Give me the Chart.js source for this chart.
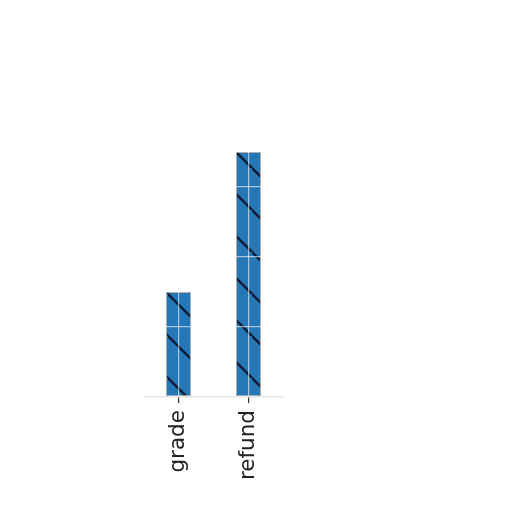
<!DOCTYPE html>
<html>
<head>
<meta charset="utf-8">
<script src="https://cdn.jsdelivr.net/npm/chart.js@4"></script>
<style>
  body { margin: 0; background: #ffffff; }
</style>
</head>
<body>
<canvas id="grafiek" width="512" height="512"></canvas>
<script>
const categories = ["grade", "refund"];
const values = [1.5, 3.5];
const yMin = 0;
const yMax = 5;
const yStep = 1;

// hatch "\" over tab blue, anchored on the canvas origin
function maakArcering() {
    const size = 42;
    const c = document.createElement('canvas');
    c.width = size;
    c.height = size;
    const g = c.getContext('2d');
    g.fillStyle = '#2677b5';
    g.fillRect(0, 0, size, size);
    g.strokeStyle = '#0c1c36';
    g.lineWidth = 2.4;
    g.beginPath();
    g.moveTo(-4, -4); g.lineTo(size + 4, size + 4);
    g.moveTo(-4 - size, -4); g.lineTo(4, size + 4);
    g.moveTo(size - 4, -4 - size); g.lineTo(size + 4 + size, size + 4 - size);
    g.stroke();
    return g.createPattern(c, 'repeat');
}

const ctx = document.getElementById('grafiek').getContext('2d');
new Chart(ctx, {
    type: 'bar',
    data: {
        labels: categories,
        datasets: [{
            data: values,
            backgroundColor: maakArcering(),
            borderColor: '#adadad',
            borderWidth: 1,
            borderSkipped: false,
            categoryPercentage: 1,
            barPercentage: 0.357
        }]
    },
    options: {
        responsive: false,
        animation: false,
        layout: { padding: { left: 143.5, right: 228.5, top: 47, bottom: 0 } },
        plugins: {
            legend: { display: false },
            tooltip: { enabled: false }
        },
        scales: {
            x: {
                afterFit: s => { s.height = 115; },
                grid: {
                    z: 1,
                    offset: false,
                    color: 'rgba(255,255,255,0.6)',
                    lineWidth: 1.2,
                    drawTicks: true,
                    tickLength: 6,
                    tickColor: '#333333'
                },
                border: { display: false },
                ticks: {
                    minRotation: 90,
                    maxRotation: 90,
                    padding: 7,
                    color: '#222222',
                    font: { family: 'DejaVu Sans', size: 21.5 }
                }
            },
            y: {
                min: yMin,
                max: yMax,
                afterFit: s => { s.width = 0; },
                grid: {
                    z: 1,
                    color: c => c.tick.value === 0 ? '#e6e6e6' : 'rgba(255,255,255,0.6)',
                    lineWidth: c => c.tick.value === 0 ? 1.5 : 1.2,
                    drawTicks: false
                },
                border: { display: false },
                ticks: { display: false, stepSize: yStep }
            }
        }
    }
});
</script>
</body>
</html>
